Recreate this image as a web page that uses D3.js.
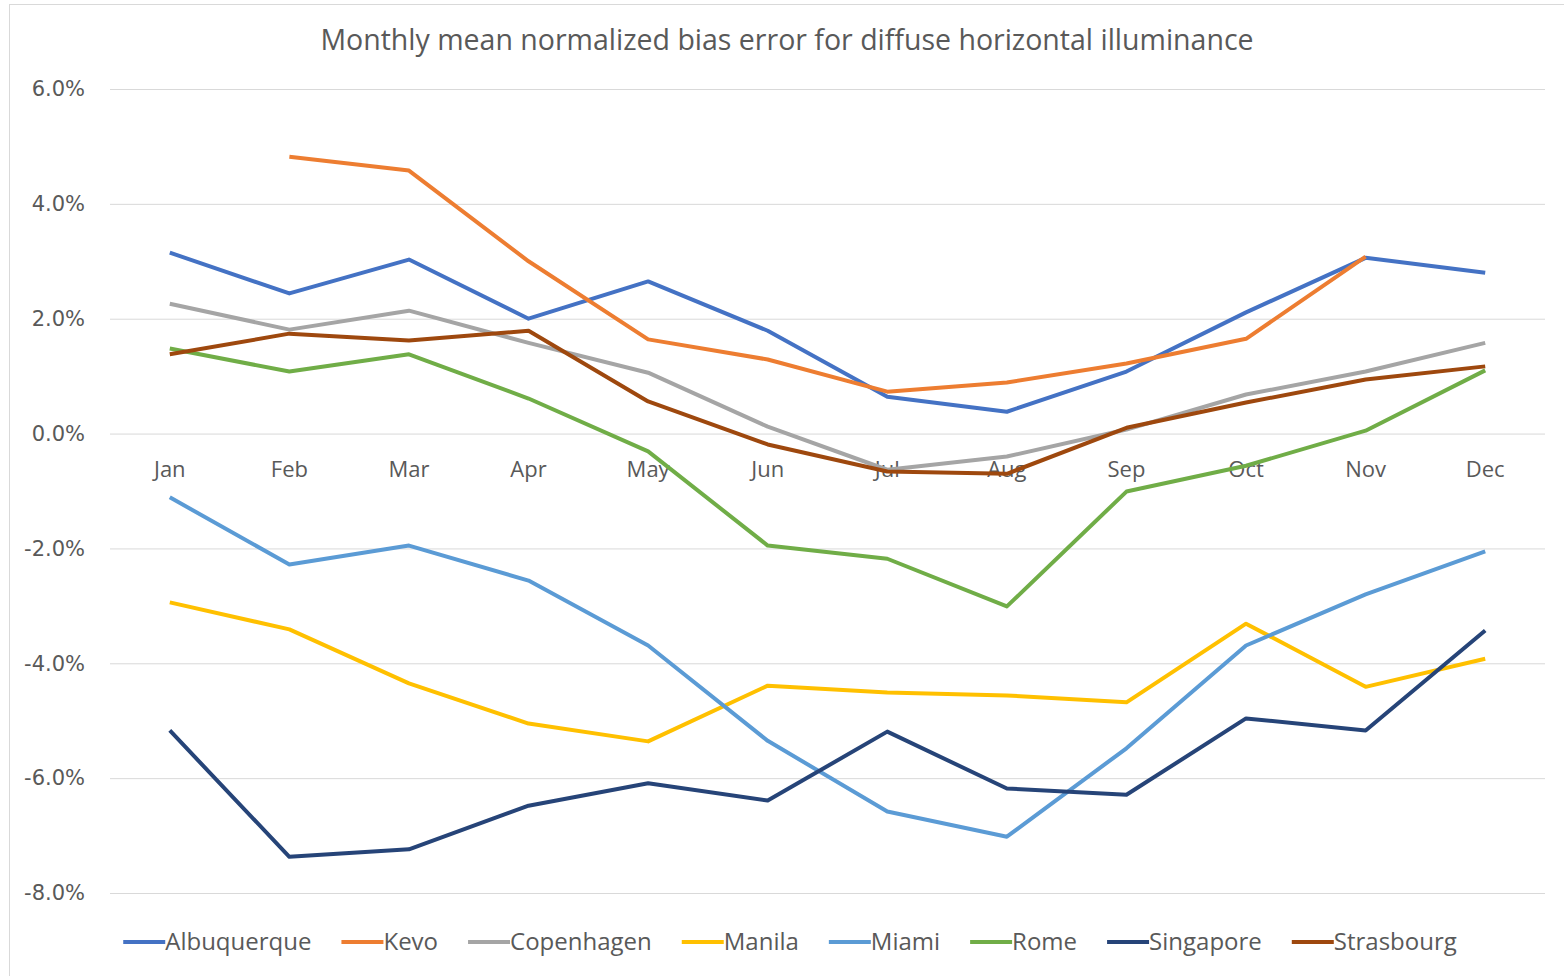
<!DOCTYPE html>
<html>
<head>
<meta charset="utf-8">
<script src="https://cdn.jsdelivr.net/npm/d3@7"></script>
<style>
  body { margin: 0; background: #fff; }
  text { font-family: "Open Sans", "Noto Sans", sans-serif; fill: #595959; }
</style>
</head>
<body>
<div id="chart"></div>
<script>
"use strict"

// months and series values (percent)
const months = ["Jan","Feb","Mar","Apr","May","Jun","Jul","Aug","Sep","Oct","Nov","Dec"];
const cities = ["Albuquerque","Kevo","Copenhagen","Manila","Miami","Rome","Singapore","Strasbourg"];
const colors = ["#4472C4","#ED7D31","#A5A5A5","#FFC000","#5B9BD5","#70AD47","#264478","#9E480E"];

const albuquerque = [3.15, 2.44, 3.03, 2.00, 2.65, 1.79, 0.64, 0.38, 1.08, 2.11, 3.06, 2.80];
const kevo        = [null, 4.82, 4.58, 3.00, 1.64, 1.29, 0.73, 0.89, 1.22, 1.65, 3.08, null];
const copenhagen  = [2.26, 1.81, 2.14, 1.58, 1.06, 0.12, -0.63, -0.40, 0.07, 0.68, 1.08, 1.58];
const manila      = [-2.94, -3.41, -4.35, -5.05, -5.36, -4.39, -4.51, -4.56, -4.68, -3.31, -4.41, -3.92];
const miami       = [-1.11, -2.28, -1.95, -2.56, -3.69, -5.35, -6.58, -7.02, -5.48, -3.69, -2.80, -2.05];
const rome        = [1.48, 1.08, 1.38, 0.61, -0.31, -1.95, -2.18, -3.01, -1.01, -0.56, 0.05, 1.10];
const singapore   = [-5.17, -7.37, -7.24, -6.48, -6.09, -6.39, -5.19, -6.18, -6.29, -4.96, -5.17, -3.43];
const strasbourg  = [1.38, 1.74, 1.62, 1.79, 0.56, -0.19, -0.66, -0.70, 0.10, 0.54, 0.94, 1.17];

const seriesValues = [albuquerque, kevo, copenhagen, manila, miami, rome, singapore, strasbourg];
const yTicks = [-8, -6, -4, -2, 0, 2, 4, 6];

const W = 1564, H = 976;
const margin = {top: 89, right: 19, bottom: 83, left: 110};
const width = W - margin.left - margin.right,
  height = H - margin.top - margin.bottom;

const svg = d3.select("#chart").append("svg")
  .attr("width", W).attr("height", H);

// chart border
svg.append("rect")
  .attr("x", 9.5).attr("y", 4.5)
  .attr("width", W).attr("height", H)
  .attr("fill", "none").attr("stroke", "#d9d9d9");

const g = svg.append("g")
  .attr("transform", "translate(" + margin.left + "," + margin.top + ")");

const x = d3.scaleBand().domain(months).range([0, width]);
const y = d3.scaleLinear().domain([-8, 6]).range([height, 0]);

// gridlines + y labels
const yAxis = g.append("g")
  .call(d3.axisLeft(y).tickValues(yTicks).tickSize(-width)
    .tickFormat(d => d.toFixed(1) + "%").tickPadding(25));
yAxis.select(".domain").remove();
yAxis.selectAll("line").attr("stroke", "#d9d9d9");
yAxis.selectAll("text")
  .style("font-family", "'DejaVu Sans', sans-serif")
  .style("font-size", "21px").attr("fill", "#595959");

// month labels along zero line
g.selectAll(".month")
  .data(months)
  .enter().append("text")
    .attr("class", "month")
    .attr("x", d => x(d) + x.bandwidth() / 2)
    .attr("y", y(0) + 43)
    .attr("text-anchor", "middle")
    .style("font-size", "22px")
    .text(d => d);

// lines
const line = d3.line()
  .defined(d => d.v !== null)
  .x(d => x(d.m) + x.bandwidth() / 2)
  .y(d => y(d.v));

seriesValues.forEach(function(vals, i) {
  g.append("path")
    .datum(vals.map((v, j) => ({m: months[j], v: v})))
    .attr("fill", "none")
    .attr("stroke", colors[i])
    .attr("stroke-width", 4)
    .attr("stroke-linejoin", "round")
    .attr("d", line);
});

// title
svg.append("text")
  .attr("x", 787).attr("y", 50)
  .attr("text-anchor", "middle")
  .style("font-size", "28.5px")
  .text("Monthly mean normalized bias error for diffuse horizontal illuminance");

// legend
const legend = svg.append("g");
let lx = 0;
cities.forEach(function(c, i) {
  const item = legend.append("g").attr("transform", "translate(" + lx + ",0)");
  item.append("line")
    .attr("x1", 0).attr("x2", 42).attr("y1", 0).attr("y2", 0)
    .attr("stroke", colors[i]).attr("stroke-width", 4);
  const t = item.append("text")
    .attr("x", 42).attr("y", 8)
    .style("font-size", "24px")
    .text(c);
  lx += 42 + t.node().getComputedTextLength() + 30;
});
lx -= 30;
legend.attr("transform", "translate(" + (790 - lx / 2) + ",942)");
</script>
</body>
</html>
